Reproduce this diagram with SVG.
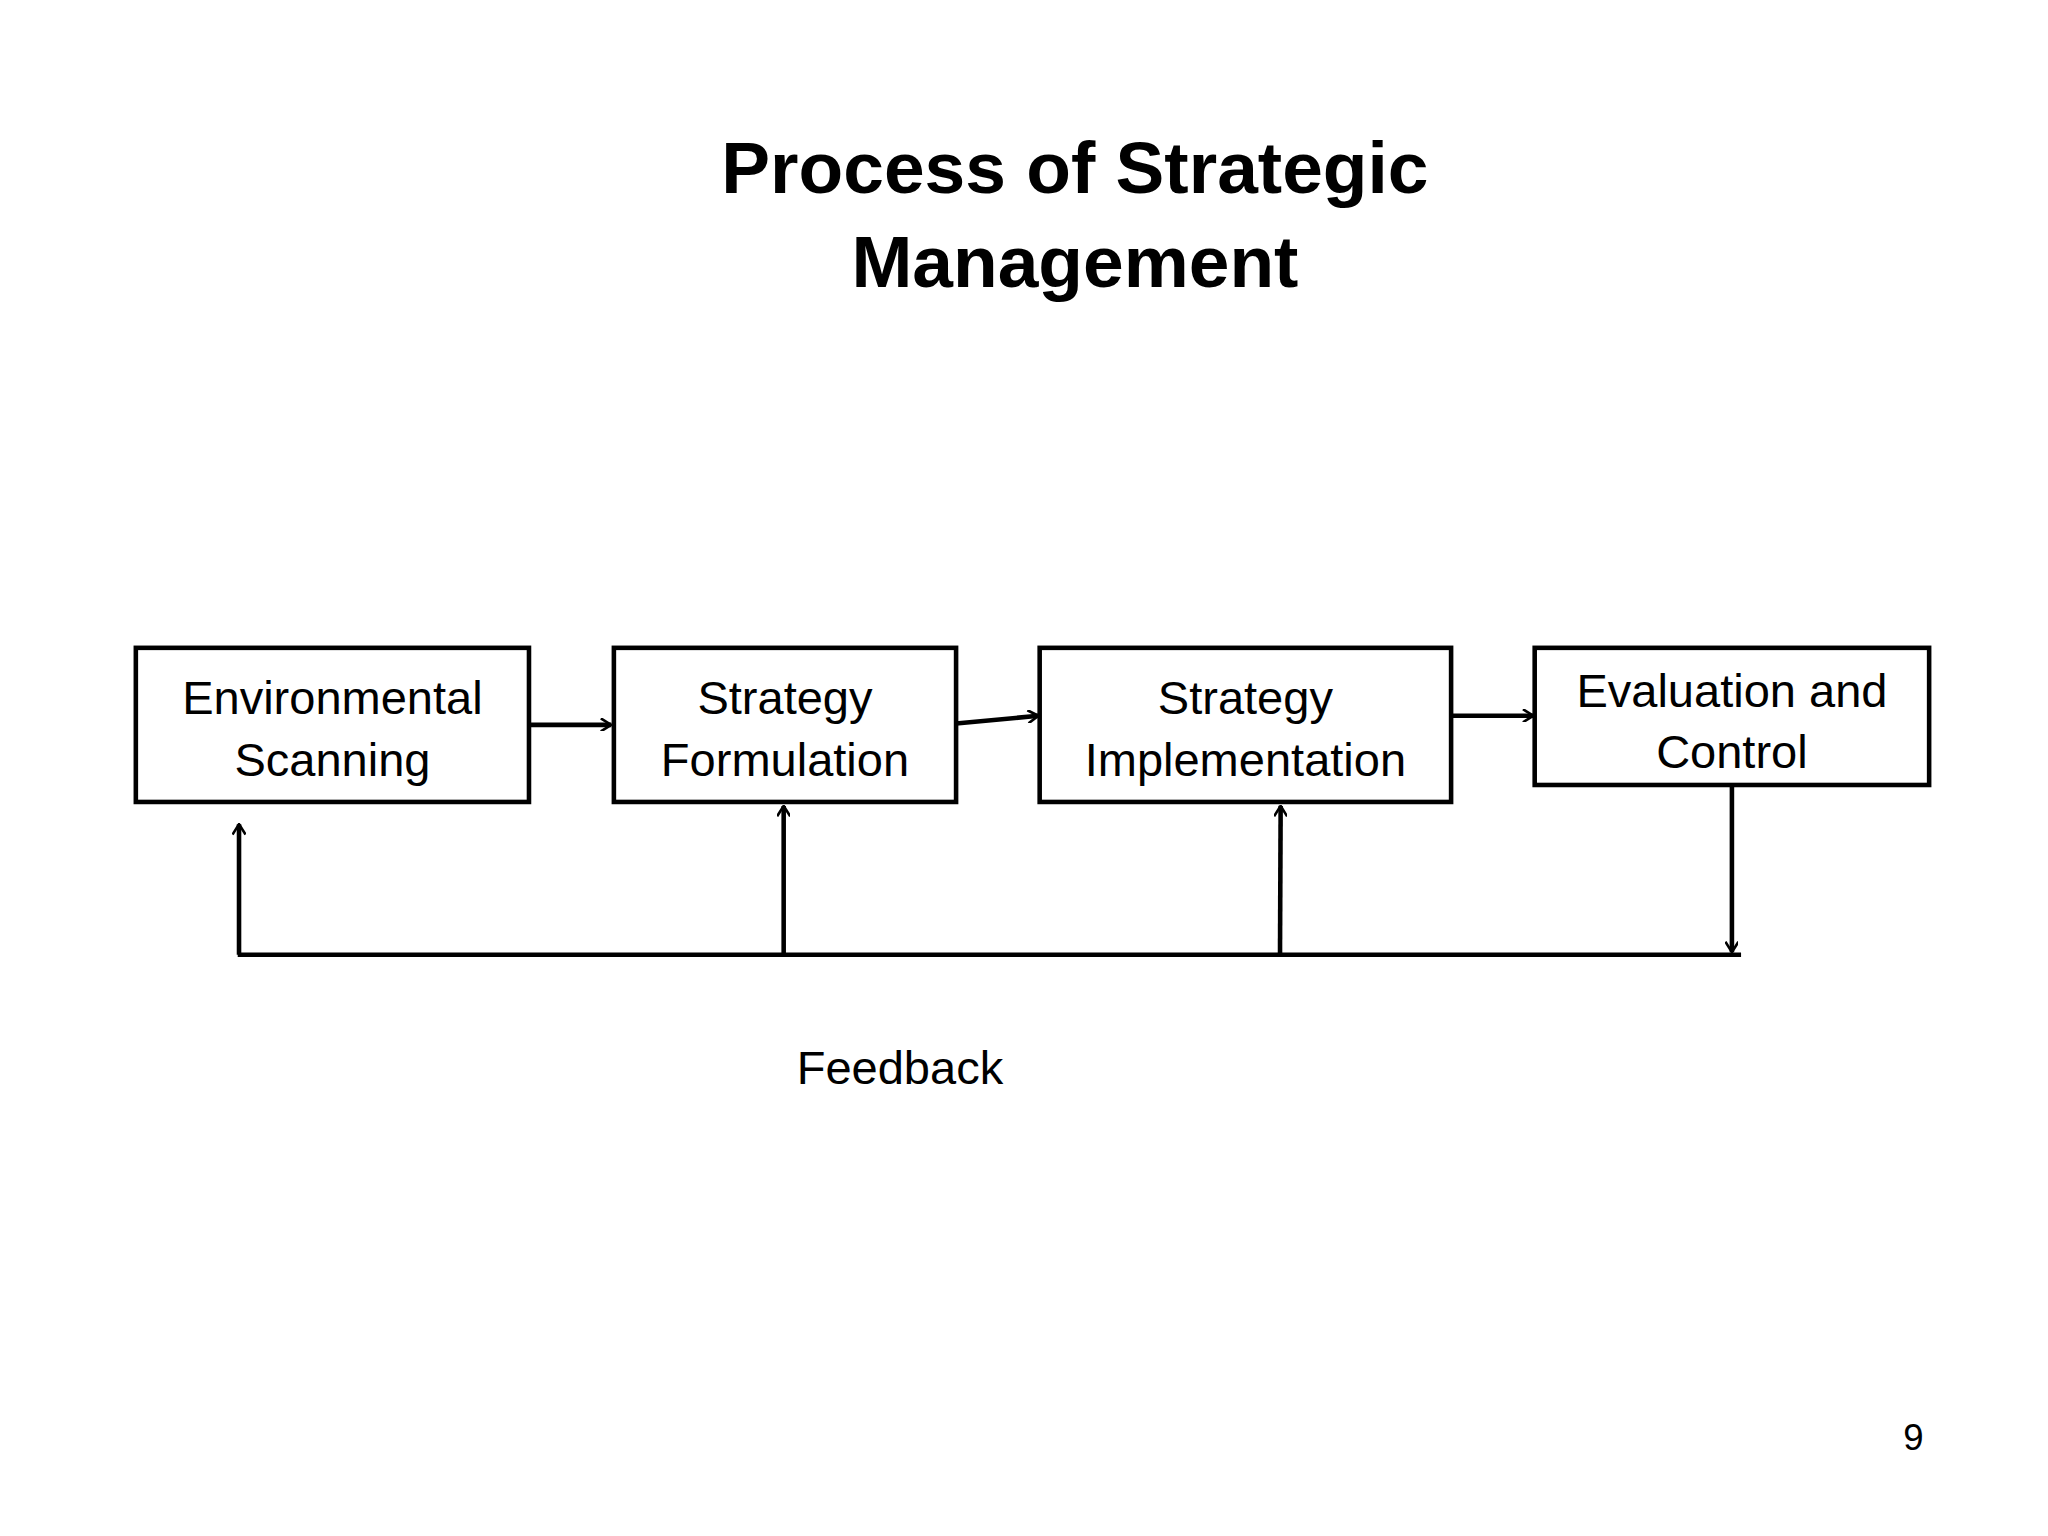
<svg xmlns="http://www.w3.org/2000/svg" width="2048" height="1536" viewBox="0 0 2048 1536">
<defs>
<marker id="a" viewBox="0 0 10 10" refX="9" refY="5" markerWidth="10" markerHeight="10" markerUnits="userSpaceOnUse" orient="auto"><path d="M1,0 L9,5 L1,10" fill="none" stroke="#000" stroke-width="2"/></marker>
</defs>
<style>
.b{fill:#fff;stroke:#000;stroke-width:3.5}
.t{font-family:"Liberation Sans",Arial,sans-serif;font-size:36px;text-anchor:middle;fill:#000}
.c{fill:none;stroke:#000;stroke-width:3.5}
</style>
<rect width="2048" height="1536" fill="#fff"/>
<g transform="scale(1.30612)">
<g id="title"><text class="t" x="823" y="148" style="font-size:56px;font-weight:bold">Process of Strategic</text><text class="t" x="823" y="220" style="font-size:56px;font-weight:bold">Management</text></g>
<g id="n1"><rect class="b" x="104" y="496" width="301" height="118"/><text class="t" x="254.5" y="547">Environmental</text><text class="t" x="254.5" y="594">Scanning</text></g>
<g id="n2"><rect class="b" x="470" y="496" width="262" height="118"/><text class="t" x="601" y="547">Strategy</text><text class="t" x="601" y="594">Formulation</text></g>
<g id="n3"><rect class="b" x="796" y="496" width="315" height="118"/><text class="t" x="953.5" y="547">Strategy</text><text class="t" x="953.5" y="594">Implementation</text></g>
<g id="n4"><rect class="b" x="1175" y="496" width="302" height="105"/><text class="t" x="1326" y="541">Evaluation and</text><text class="t" x="1326" y="588">Control</text></g>
<g id="connectors">
<line class="c" x1="405" y1="555" x2="468" y2="555" marker-end="url(#a)"/>
<line class="c" x1="732" y1="554" x2="795" y2="548" marker-end="url(#a)"/>
<line class="c" x1="1111" y1="548" x2="1174" y2="548" marker-end="url(#a)"/>
<line class="c" x1="1326" y1="601" x2="1326" y2="729" marker-end="url(#a)"/>
<line class="c" x1="182" y1="731" x2="1333" y2="731"/>
<line class="c" x1="183" y1="731" x2="183" y2="631" marker-end="url(#a)"/>
<line class="c" x1="600" y1="731" x2="600" y2="617" marker-end="url(#a)"/>
<line class="c" x1="980" y1="731" x2="980.5" y2="617" marker-end="url(#a)"/>
</g>
<text class="t" x="689" y="830">Feedback</text>
<text class="t" x="1465" y="1110" style="font-size:28px">9</text>
</g>
</svg>
